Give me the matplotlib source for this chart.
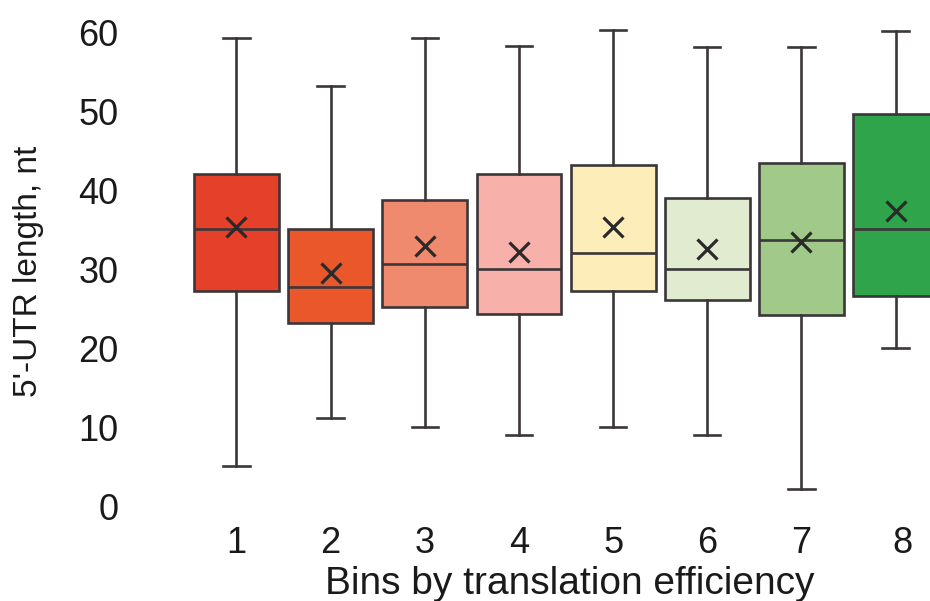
import matplotlib
matplotlib.use("Agg")
import matplotlib.pyplot as plt
from matplotlib.transforms import ScaledTranslation

plt.rcParams['font.family'] = ['Liberation Sans', 'DejaVu Sans']

bins = ["1", "2", "3", "4", "5", "6", "7", "8"]
whisker_low = [5.2, 11.3, 10.1, 9.1, 10.1, 9.1, 2.3, 20.1]
q1 = [27.3, 23.3, 25.3, 24.4, 27.3, 26.2, 24.3, 26.7]
median = [35.2, 27.8, 30.8, 30.1, 32.2, 30.1, 33.8, 35.2]
q3 = [42.2, 35.2, 38.9, 42.2, 43.3, 39.1, 43.5, 49.7]
whisker_high = [59.4, 53.3, 59.4, 58.4, 60.4, 58.2, 58.2, 60.3]
mean = [35.4, 29.6, 33.0, 32.3, 35.4, 32.7, 33.5, 37.5]
colors = ["#e5402a", "#e9572a", "#f08a6e", "#f8b0aa", "#fdedb9", "#e0ebcf", "#a1c98a", "#2fa44b"]
yticks = [0, 10, 20, 30, 40, 50, 60]

W, H = 930, 601
fig = plt.figure(figsize=(W / 100, H / 100), dpi=100)
ax = fig.add_axes([142.3 / W, (H - 522.8) / H, 791 / W, (522.8 - 17.2) / H])

stats = []
for i in range(len(bins)):
    stats.append(dict(med=median[i], q1=q1[i], q3=q3[i], whislo=whisker_low[i],
                      whishi=whisker_high[i], mean=mean[i], fliers=[], label=bins[i]))

edge = "#3b3639"
positions = list(range(1, len(bins) + 1))
bp = ax.bxp(stats, positions=positions, widths=0.9, capwidths=0.28, patch_artist=True,
            showmeans=True, showfliers=False,
            boxprops=dict(edgecolor=edge, linewidth=1.9),
            whiskerprops=dict(color=edge, linewidth=1.9),
            capprops=dict(color=edge, linewidth=1.9),
            medianprops=dict(color=edge, linewidth=1.9),
            meanprops=dict(marker="x", markeredgecolor="#2a2a2a", markersize=14, markeredgewidth=2.3))
for patch, c in zip(bp["boxes"], colors):
    patch.set_facecolor(c)

ax.set_xlim(0, 8.4)
ax.set_ylim(-2, 62)
ax.set_yticks(yticks)
ax.set_yticklabels([str(v) for v in yticks])
ax.set_xticks(positions)
ax.set_xticklabels(bins)
for s in ax.spines.values():
    s.set_visible(False)
ax.tick_params(axis="both", length=0, labelsize=26, labelcolor="#1a1a1a")
ax.tick_params(axis="y", pad=17)
ax.tick_params(axis="x", pad=2)
lbl8 = ax.get_xticklabels()[-1]
lbl8.set_transform(lbl8.get_transform() + ScaledTranslation(0.07, 0, fig.dpi_scale_trans))

fig.text(29 / W, 1 - 271 / H, "5'-UTR length, nt", rotation=90, ha="center", va="center",
         fontsize=24, color="#1a1a1a")
fig.text(570 / W, 1 - 594 / H, "Bins by translation efficiency", ha="center", va="baseline",
         fontsize=28, color="#1a1a1a")

fig.savefig("out.png", dpi=100, facecolor="white")
